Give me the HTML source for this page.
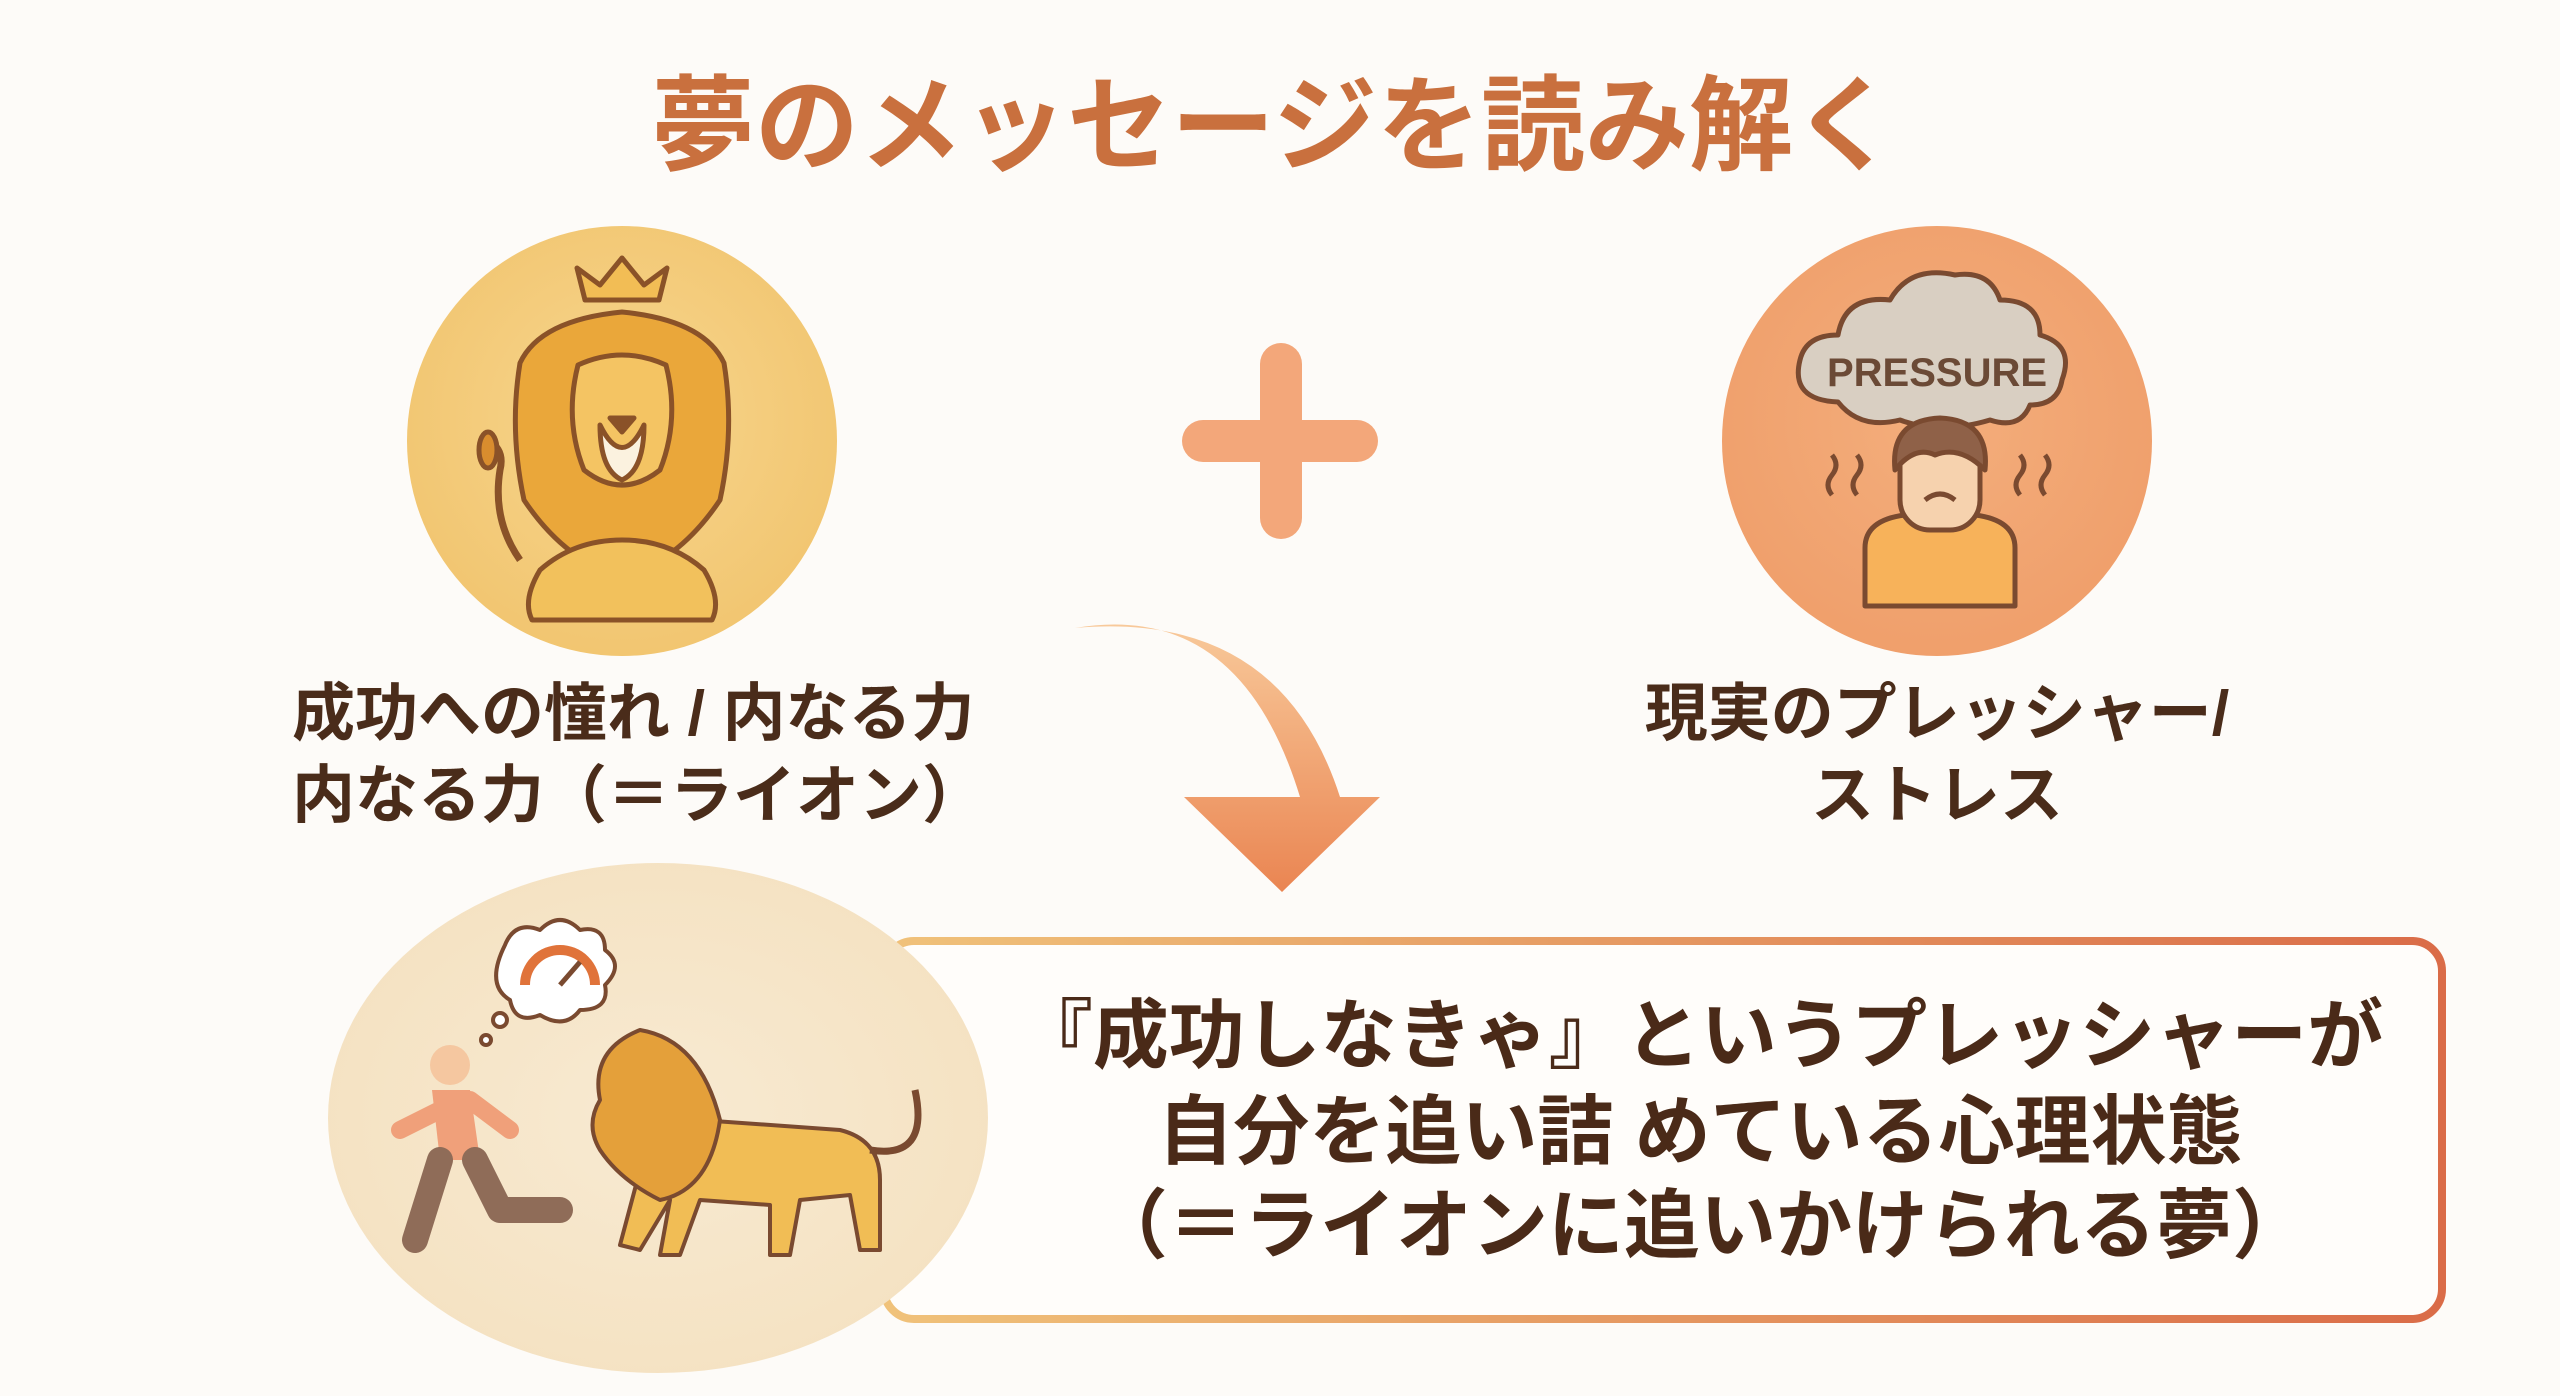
<!DOCTYPE html>
<html><head><meta charset="utf-8"><style>
html,body{margin:0;padding:0;background:#fdfbf8;}
svg{display:block}
text{font-family:"Liberation Sans","Noto Sans CJK JP",sans-serif;font-weight:700}
</style></head><body>
<svg width="2560" height="1396" viewBox="0 0 2560 1396" xmlns="http://www.w3.org/2000/svg">
<defs>
<radialGradient id="gL" cx="50%" cy="45%" r="60%"><stop offset="0" stop-color="#f7d68e"/><stop offset="1" stop-color="#f1c46e"/></radialGradient>
<radialGradient id="gR" cx="50%" cy="45%" r="60%"><stop offset="0" stop-color="#f4ae7c"/><stop offset="1" stop-color="#ef9e6a"/></radialGradient>
<radialGradient id="gB" cx="50%" cy="50%" r="60%"><stop offset="0" stop-color="#f8ead2"/><stop offset="1" stop-color="#f4e1c0"/></radialGradient>
<linearGradient id="gArrow" x1="0" y1="0" x2="0" y2="1"><stop offset="0" stop-color="#f8c99a"/><stop offset="1" stop-color="#ea8552"/></linearGradient>
<linearGradient id="gBox" x1="0" y1="0" x2="1" y2="0"><stop offset="0" stop-color="#f0c27a"/><stop offset="1" stop-color="#da6c48"/></linearGradient>
</defs>
<rect width="2560" height="1396" fill="#fdfbf8"/>
<text x="1274" y="162" font-size="104" fill="#c9703e" text-anchor="middle">夢のメッセージを読み解く</text>

<circle cx="622" cy="441" r="215" fill="url(#gL)"/>
<g stroke="#8a5228" stroke-width="5" stroke-linejoin="round">
<path d="M585 300 L577 268 L600 285 L622 258 L644 285 L667 268 L659 300 Z" fill="#f2bd55"/>
<path d="M520 363 Q540 320 622 312 Q704 320 724 363 Q735 430 720 500 Q680 560 622 578 Q564 560 524 500 Q509 430 520 363 Z" fill="#eaa73a"/>
<path d="M540 570 Q522 600 532 620 L712 620 Q722 600 704 570 Q670 540 622 540 Q574 540 540 570Z" fill="#f2c15c"/>
<path d="M578 365 Q622 345 666 365 Q680 420 660 470 Q622 500 584 470 Q564 420 578 365Z" fill="#f4c463"/>
<path d="M600 425 Q622 470 644 425 Q644 470 622 480 Q600 470 600 425Z" fill="#fbf2df"/>
<path d="M610 418 L634 418 L622 432Z" fill="#8a5228"/>
<path d="M520 560 Q492 520 500 470 Q505 450 488 440" fill="none" stroke-width="7"/>
<ellipse cx="488" cy="450" rx="9" ry="18" fill="#d98d2e"/>
</g>

<rect x="1260" y="343" width="42" height="196" rx="21" fill="#f3a77a"/>
<rect x="1182" y="420" width="196" height="42" rx="21" fill="#f3a77a"/>

<circle cx="1937" cy="441" r="215" fill="url(#gR)"/>
<g stroke="#7a4a30" stroke-width="5" stroke-linejoin="round">
<path d="M1838 402 Q1790 400 1800 360 Q1806 335 1838 335 Q1845 295 1890 300 Q1910 265 1955 275 Q1990 270 2000 300 Q2040 300 2040 335 Q2075 345 2062 380 Q2058 405 2030 405 Q2020 430 1990 420 Q1940 435 1900 420 Q1860 430 1838 402Z" fill="#d9cfc2"/>
<path d="M1865 548 Q1865 520 1905 515 L1975 515 Q2015 520 2015 548 L2015 606 L1865 606Z" fill="#f7b25a"/>
<rect x="1900" y="435" width="80" height="95" rx="30" fill="#f6d2ae"/>
<path d="M1895 470 Q1890 420 1940 418 Q1990 420 1985 470 Q1960 445 1935 455 Q1915 445 1895 470Z" fill="#8f6148"/>
<path d="M1925 500 Q1940 488 1955 500" fill="none"/>
<path d="M1832 455 q8 10 0 20 q-8 10 0 20 M1857 455 q8 10 0 20 q-8 10 0 20 M2020 455 q8 10 0 20 q-8 10 0 20 M2045 455 q8 10 0 20 q-8 10 0 20" fill="none"/>
</g>
<text x="1937" y="386" font-size="40" fill="#6b4a36" text-anchor="middle">PRESSURE</text>

<g font-size="63" fill="#4a2c1a">
<text x="292" y="735">成功への憧れ / 内なる力</text>
<text x="292" y="817">内なる力（＝ライオン）</text>
<text x="1937" y="735" text-anchor="middle">現実のプレッシャー/</text>
<text x="1937" y="817" text-anchor="middle">ストレス</text>
</g>

<path d="M1075 628 Q1240 600 1300 797 L1184 797 L1282 892 L1380 797 L1340 797 Q1280 610 1075 628Z" fill="url(#gArrow)"/>

<rect x="884" y="941" width="1558" height="378" rx="30" fill="#fffdfa" stroke="url(#gBox)" stroke-width="8"/>
<ellipse cx="658" cy="1118" rx="330" ry="255" fill="url(#gB)"/>
<g stroke="#7a4a30" stroke-width="4" stroke-linejoin="round">
<path d="M505 945 q10-25 35-15 q20-20 40 0 q25-5 25 20 q20 15 0 35 q5 25-25 25 q-15 20-40 5 q-25 10-30-15 q-25-15-5-55Z" fill="#fff"/>
<path d="M525 985 A35 35 0 0 1 595 985" fill="none" stroke="#e0733a" stroke-width="10"/>
<line x1="560" y1="985" x2="580" y2="962" stroke-width="5"/>
<circle cx="500" cy="1020" r="7" fill="#fff"/><circle cx="486" cy="1040" r="5" fill="#fff"/>
<circle cx="450" cy="1065" r="20" fill="#f5c7a0" stroke="none"/>
<path d="M432 1090 L470 1090 L480 1160 L440 1160Z" fill="#f0a07a" stroke="none"/>
<path d="M440 1160 L415 1240 M475 1160 L500 1210 L560 1210" stroke="#8f6c58" stroke-width="26" fill="none" stroke-linecap="round"/>
<path d="M440 1110 L400 1130 M470 1100 L510 1130" stroke="#f0a07a" stroke-width="18" stroke-linecap="round"/>
<path d="M640 1170 Q640 1120 700 1120 L840 1130 Q880 1140 880 1180 L880 1250 L860 1250 L850 1195 L800 1200 L790 1255 L770 1255 L770 1205 L700 1200 L680 1255 L660 1255 L670 1200 L640 1250 L620 1245 Z" fill="#f1bd55"/>
<path d="M600 1100 Q590 1050 640 1030 Q700 1040 720 1120 Q710 1190 660 1200 Q620 1180 600 1150 Q585 1125 600 1100Z" fill="#e4a03a"/>
<path d="M870 1150 Q930 1160 915 1090" fill="none" stroke-width="7"/>
</g>
<g font-size="76" fill="#4a2a18" text-anchor="middle">
<text x="1700" y="1062">『成功しなきゃ』というプレッシャーが</text>
<text x="1700" y="1158">自分を追い詰 めている心理状態</text>
<text x="1700" y="1252">（＝ライオンに追いかけられる夢）</text>
</g>
</svg>
</body></html>
